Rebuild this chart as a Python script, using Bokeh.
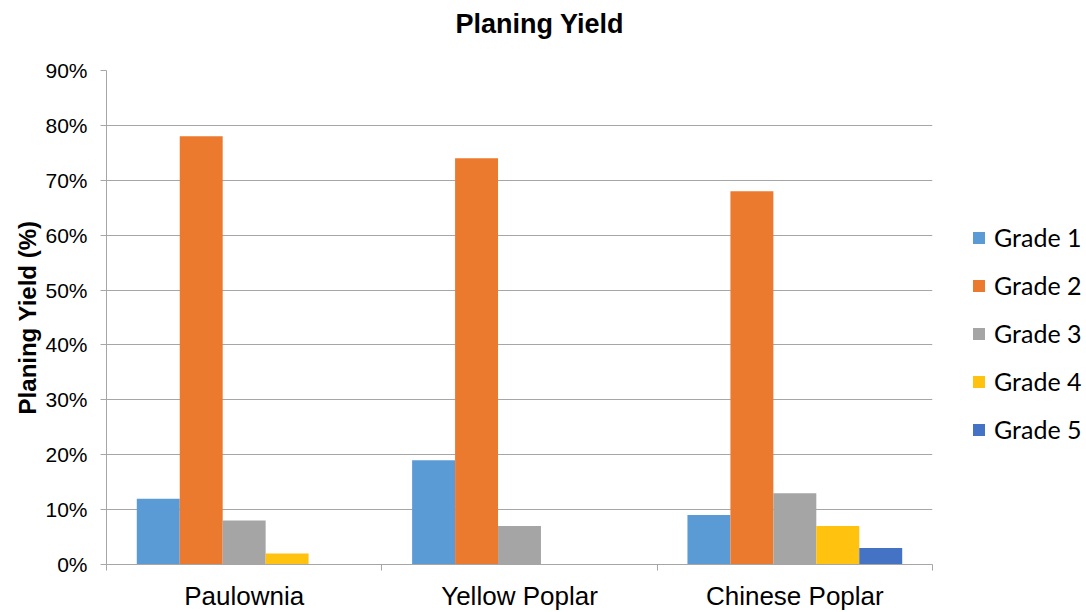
from bokeh.plotting import figure
from bokeh.models import (Range1d, FixedTicker, NumeralTickFormatter, Legend, LegendItem,
                          ColumnDataSource, Title)
from bokeh.embed import file_html
from bokeh.resources import INLINE

title_text = "Planing Yield"
categories = ["Paulownia", "Yellow Poplar", "Chinese Poplar"]
grades = ["Grade 1", "Grade 2", "Grade 3", "Grade 4", "Grade 5"]
grade1 = [0.12, 0.19, 0.09]
grade2 = [0.78, 0.74, 0.68]
grade3 = [0.08, 0.07, 0.13]
grade4 = [0.02, 0.0, 0.07]
grade5 = [0.0, 0.0, 0.03]
series = [grade1, grade2, grade3, grade4, grade5]
colors = ["#5B9BD5", "#EC7A2E", "#A5A5A5", "#FFC20E", "#4472C4"]
y_ticks = [0.0, 0.1, 0.2, 0.3, 0.4, 0.5, 0.6, 0.7, 0.8, 0.9]

p = figure(frame_width=826, frame_height=494, output_backend="svg", toolbar_location=None,
           x_range=Range1d(0, len(categories)), y_range=Range1d(0, 0.9),
           min_border_left=106, min_border_right=148, min_border_top=70, min_border_bottom=44,
           title=None)
p.outline_line_color = None
p.background_fill_color = "white"
p.border_fill_color = "white"

# spacer between plot area and title
spacer = Title(text=" ", text_font_size="1px", standoff=25)
p.add_layout(spacer, "above")
main_title = Title(text=title_text, align="left", offset=349, standoff=8,
                   text_font="Liberation Sans", text_font_size="27px",
                   text_font_style="bold", text_color="#000000")
p.add_layout(main_title, "above")

bar_w = 0.156
renderers = []
for j, vals in enumerate(series):
    xs = [i + 0.5 + (j - 2) * bar_w for i in range(len(categories))]
    src = ColumnDataSource(dict(x=xs, top=vals))
    r = p.vbar(x="x", top="top", width=bar_w, bottom=0, source=src,
               fill_color=colors[j], line_color=None)
    renderers.append(r)

# y axis
yax = p.yaxis[0]
yax.ticker = FixedTicker(ticks=y_ticks)
yax.formatter = NumeralTickFormatter(format="0%")
yax.axis_line_color = "#A6A6A6"
yax.axis_line_width = 1
yax.major_tick_line_color = "#A6A6A6"
yax.major_tick_out = 6
yax.major_tick_in = 0
yax.minor_tick_line_color = None
yax.major_label_text_font = "Liberation Sans"
yax.major_label_text_font_size = "21px"
yax.major_label_text_color = "#000000"
yax.major_label_standoff = 13
yax.axis_label = "Planing Yield (%)"
yax.axis_label_text_font = "Liberation Sans"
yax.axis_label_text_font_size = "24px"
yax.axis_label_text_font_style = "bold"
yax.axis_label_text_color = "#000000"
yax.axis_label_standoff = 1

# x axis
xax = p.xaxis[0]
centers = [i + 0.5 for i in range(len(categories))]
xax.ticker = FixedTicker(ticks=centers, minor_ticks=list(range(len(categories) + 1)))
xax.major_label_overrides = {c: name for c, name in zip(centers, categories)}
xax.axis_line_color = "#A6A6A6"
xax.major_tick_line_color = None
xax.major_tick_out = 0
xax.major_tick_in = 0
xax.minor_tick_line_color = "#A6A6A6"
xax.minor_tick_out = 6
xax.minor_tick_in = 0
xax.major_label_text_font = "Liberation Sans"
xax.major_label_text_font_size = "26px"
xax.major_label_text_color = "#000000"
xax.major_label_standoff = 10

p.xgrid.grid_line_color = None
p.ygrid.ticker = FixedTicker(ticks=y_ticks)
p.ygrid.grid_line_color = "#A6A6A6"
p.ygrid.grid_line_width = 1

legend = Legend(items=[LegendItem(label=g, renderers=[r]) for g, r in zip(grades, renderers)],
                location=(39, 120), orientation="vertical")
legend.label_text_font = "Lato"
legend.label_text_font_size = "25px"
legend.label_text_color = "#000000"
legend.glyph_width = 15
legend.glyph_height = 15
legend.label_standoff = 8
legend.spacing = 18
legend.padding = 0
legend.margin = 0
legend.border_line_color = None
legend.background_fill_alpha = 0
p.add_layout(legend, "right")

open("out.html", "w").write(file_html(p, INLINE))
